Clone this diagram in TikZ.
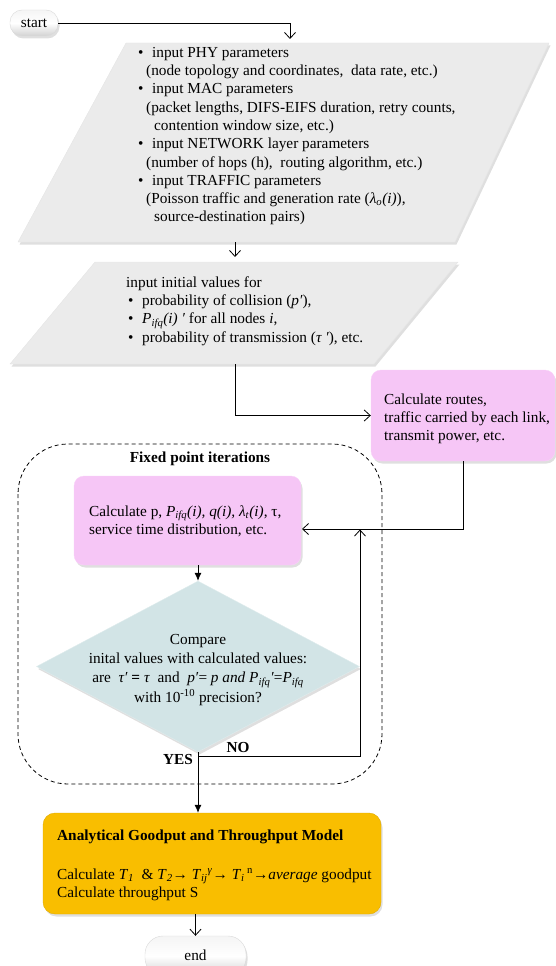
\documentclass[tikz,border=0pt]{standalone}
\usepackage{fontspec}
\setmainfont{Liberation Serif}
\usetikzlibrary{arrows.meta,shapes.geometric,shadows}
\definecolor{pgfill}{RGB}{235,235,235}
\definecolor{pinkfill}{RGB}{246,198,246}
\definecolor{diafill}{RGB}{210,228,230}
\definecolor{goldfill}{RGB}{249,190,0}
\tikzset{
  conn/.style={draw=black, line width=0.8pt},
  openarrow/.style={-{Straight Barb[length=6pt,width=11pt,line width=0.8pt]}},
  filledarrow/.style={-{Latex[length=8pt,width=7pt]}},
  softshadow/.style={drop shadow={opacity=0.25,shadow xshift=1.5pt,shadow yshift=-2.5pt}},
  pill/.style={rectangle, rounded corners=12pt, top color=gray!8, bottom color=gray!35, middle color=white, draw=gray!30, softshadow, inner sep=0pt},
  pinkbox/.style={rectangle, rounded corners=10pt, fill=pinkfill, draw=pinkfill!80!white, softshadow, inner sep=0pt},
  goldbox/.style={rectangle, rounded corners=12pt, fill=goldfill, draw=goldfill!90!black, softshadow, inner sep=0pt},
  pgram/.style={fill=pgfill, draw=gray!20, softshadow},
  txt/.style={font=\fontsize{15.3}{18.3}\selectfont, inner sep=0pt, align=left},
  btxt/.style={font=\fontsize{15.3}{18.3}\selectfont\bfseries, inner sep=0pt},
}
\newcommand{\bul}{\makebox[14pt][l]{•}}
\newcommand{\stru}{\rule{0pt}{11pt}}
\begin{document}
\begin{tikzpicture}[x=1pt,y=-1pt]
\useasboundingbox (0,0) rectangle (556,966);

% parallelograms (shapes)
\path[pgram] (126,43) -- (549,43) -- (455,242) -- (18,242) -- cycle;
\path[pgram] (95,262) -- (458,262) -- (374,364) -- (10,364) -- cycle;

% connection coordinates
\coordinate (p1in) at (290,39);
\coordinate (p1out) at (235,242);
\coordinate (p2in) at (235,257);
\coordinate (p2out) at (235,364);
\coordinate (calcin) at (302,529);
\coordinate (nojoin) at (198,756);
\coordinate (noup) at (360,529.5);

% dashed container
\draw[dashed, dash pattern=on 4pt off 3pt, line width=0.8pt, rounded corners=50pt] (18,444) rectangle (382,784);

% nodes
\node[pill, minimum width=48, minimum height=26] (start) at (34,23) {};
\node[txt] (starttxt) at (start.center) {start};

\node[txt, anchor=north west] (p1txt) at (138,46) {\stru\bul input PHY parameters\\
\hspace{8pt}(node topology and coordinates,\ \ data rate, etc.)\\
\bul input MAC parameters\\
\hspace{8pt}(packet lengths, DIFS-EIFS duration, retry counts,\\
\hspace{16pt}contention window size, etc.)\\
\bul input NETWORK layer parameters\\
\hspace{8pt}(number of hops (h),\ \ routing algorithm, etc.)\\
\bul input TRAFFIC parameters\\
\hspace{8pt}(Poisson traffic and generation rate (\textit{λ}\textsubscript{\textit{o}}\textit{(i)}),\\
\hspace{16pt}source-destination pairs)};

\node[txt, anchor=north west] (p2txt) at (126,276) {\stru input initial values for\\
\hspace{2pt}\bul probability of collision (\textit{p′}),\\
\hspace{2pt}\bul \textit{P}\textsubscript{\textit{ifq}}\textit{(i) ′} for all nodes \textit{i},\\
\hspace{2pt}\bul probability of transmission (\textit{τ ′}), etc.};

\node[pinkbox, minimum width=184, minimum height=91] (routes) at (463,415.5) {};
\node[txt, anchor=north west] (routestxt) at (384,393) {\stru Calculate routes,\\traffic carried by each link,\\transmit power, etc.};

\node[btxt] (fpi) at (200,459) {Fixed point iterations};

\node[pinkbox, minimum width=227, minimum height=89] (calc) at (187.5,520.5) {};
\node[txt, anchor=north west] (calctxt) at (89,505) {\stru Calculate p, \textit{P}\textsubscript{\textit{ifq}}\textit{(i), q(i), λ}\textsubscript{\textit{t}}\textit{(i)}, τ,\\service time distribution, etc.};

\node[diamond, fill=diafill, draw=diafill!70!white, softshadow, minimum width=323, minimum height=171, inner sep=0pt] (dia) at (198,666.5) {};
\node[font=\fontsize{15.3}{19.3}\selectfont, inner sep=0pt, align=center, anchor=north] (diatxt) at (198,633) {\stru Compare\\
inital values with calculated values:\\
are\ \ \textit{τ′} \textbf{=} \textit{τ}\ \ and\ \ \textit{p′}= \textit{p and P}\textsubscript{\textit{ifq}}\textit{′}=\textit{P}\textsubscript{\textit{ifq}}\\
with 10\textsuperscript{-10} precision?};

\node[btxt] (yes) at (178,760) {YES};
\node[btxt] (no) at (238,747) {NO};

\node[goldbox, minimum width=338, minimum height=101] (good) at (212,863.5) {};
\node[btxt, anchor=base west] (goodtitle) at (57,840) {Analytical Goodput and Throughput Model};
\node[txt, anchor=north west] (goodtxt) at (57,868) {\stru Calculate \textit{T}\textsubscript{\textit{1}}\ \ \& \textit{T}\textsubscript{\textit{2}}→ \textit{T}\textsubscript{\textit{ij}}\textsuperscript{\textit{γ}}→ \textit{T}\textsubscript{\textit{i}}\,\textsuperscript{n}→\textit{average} goodput\\
Calculate throughput S};

\node[pill, rounded corners=18pt, minimum width=101, minimum height=40] (end) at (195.5,956) {};
\node[txt] (endtxt) at (195.5,955) {end};

% connectors
\draw[conn, openarrow] (start.east) -| (p1in);
\draw[conn, openarrow] (p1out) -- (p2in);
\draw[conn, openarrow] (p2out) |- (routes.west);
\draw[conn, openarrow] (routes.south) |- (calcin);
\draw[conn, filledarrow] (calc.south -| dia.north) -- (dia.north);
\draw[conn, openarrow] (nojoin) -| (noup);
\draw[conn, filledarrow] (dia.south) -- (dia.south |- good.north);
\draw[conn, openarrow] (end.north |- good.south) -- (end.north);
\end{tikzpicture}
\end{document}
